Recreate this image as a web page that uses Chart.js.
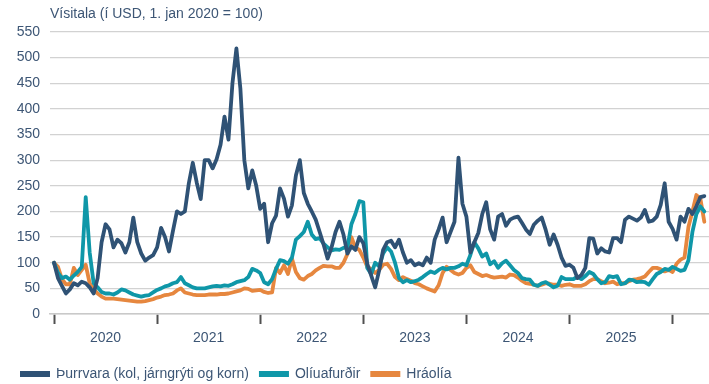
<!DOCTYPE html>
<html lang="is">
<head>
<meta charset="utf-8">
<title>Hrávöruverð</title>
<script src="https://cdn.jsdelivr.net/npm/chart.js@4.4.1/dist/chart.umd.min.js"></script>
<style>
  html, body { margin: 0; padding: 0; background: #ffffff; }
  #wrap { width: 709px; height: 384px; }
</style>
</head>
<body>
<div id="wrap"><canvas id="chart" width="709" height="384"></canvas></div>
<script>
// Biweekly observations starting 1 Jan 2020 (index 100 = 1. jan 2020, in USD)
const startYear = 2020;
const pointsPerYear = 26;

const seriesNames = ['Þurrvara (kol, járngrýti og korn)', 'Olíuafurðir', 'Hráolía'];
const yearLabels = ['2020', '2021', '2022', '2023', '2024', '2025'];
const yTicks = [0, 50, 100, 150, 200, 250, 300, 350, 400, 450, 500, 550];

const dryBulk = [
  100, 70, 55, 40, 48, 60, 56, 63, 60, 52, 40, 70, 140, 175, 165, 130, 145, 138, 120, 140, 188, 140, 118, 104, 110, 115,
  130, 168, 150, 122, 162, 200, 195, 200, 255, 295, 256, 224, 300, 300, 284, 302, 330, 385, 340, 450, 518, 440, 300, 245, 280, 250,
  205, 215, 140, 177, 192, 245, 225, 190, 212, 270, 300, 236, 215, 200, 184, 160, 135, 108, 130, 160, 180, 155, 118, 132,
  125, 150, 138, 98, 75, 52, 85, 125, 140, 143, 130, 145, 120, 100, 105, 95, 99, 95, 110, 100, 145, 165, 188, 140, 160, 180,
  305, 215, 190, 120, 140, 158, 195, 218, 165, 145, 190, 195, 172, 184, 188, 190, 178, 165, 156, 174, 182, 188, 164, 135,
  155, 135, 110, 94, 96, 90, 70, 76, 90, 148, 147, 118, 128, 122, 120, 148, 148, 140, 184, 190, 186, 182, 188, 203, 180, 182,
  190, 213, 255, 180, 166, 145, 190, 180, 205, 195, 210, 228, 230
];

const oilProducts = [
  100, 80, 70, 73, 67, 75, 82, 92, 228, 120, 60, 52, 43, 40, 40, 38, 42, 48, 46, 42, 38, 36, 34, 36, 37, 42,
  47, 50, 54, 56, 60, 62, 72, 60, 56, 52, 50, 50, 50, 52, 54, 55, 54, 56, 55, 58, 62, 64, 66, 72, 88, 85,
  80, 62, 58, 68, 88, 105, 103, 98, 110, 145, 152, 160, 180, 155, 146, 148, 137, 130, 124, 126, 125, 129, 130, 175,
  195, 220, 218, 90, 78, 100, 93, 118, 130, 122, 100, 70, 62, 66, 62, 64, 67, 72, 78, 83, 80, 86, 90, 87, 90, 90,
  93, 98, 95, 115, 140, 128, 112, 118, 97, 103, 90, 99, 104, 95, 86, 80, 70, 68, 67, 57, 55, 60, 62, 57,
  52, 55, 72, 68, 68, 68, 73, 68, 74, 82, 78, 68, 60, 62, 74, 72, 74, 58, 60, 67, 66, 62, 63, 62, 57, 68,
  78, 82, 88, 86, 92, 88, 84, 86, 105, 160, 195, 210, 200
];

const crudeOil = [
  100, 92, 68, 58, 58, 90, 76, 86, 96, 60, 48, 40, 34, 30, 30, 30, 29, 28, 27, 26, 25, 24, 24, 25, 27, 29,
  32, 34, 37, 38, 40, 46, 50, 42, 40, 38, 37, 37, 37, 38, 38, 38, 39, 39, 40, 42, 44, 46, 50, 49, 45, 46,
  47, 43, 41, 42, 90, 80, 95, 78, 108, 82, 70, 67, 74, 78, 85, 90, 94, 93, 93, 90, 90, 100, 117, 150,
  130, 125, 110, 92, 88, 80, 86, 96, 98, 88, 72, 66, 72, 68, 65, 60, 58, 54, 50, 47, 44, 56, 80, 92, 86, 80,
  77, 80, 90, 95, 82, 78, 74, 76, 73, 71, 72, 73, 71, 77, 76, 71, 65, 60, 59, 57, 55, 57, 60, 59,
  57, 57, 55, 57, 58, 55, 55, 55, 58, 64, 68, 68, 64, 60, 61, 63, 58, 60, 60, 64, 67, 68, 70, 73, 82, 90,
  90, 87, 83, 86, 82, 98, 106, 110, 170, 200, 232, 225, 180
];

// Time axis in fractional years, one entry per observation
const periods = dryBulk.map((_, i) => startYear + i / pointsPerYear);

const colors = ['#2f5275', '#0f97a8', '#e6873f'];
const textColor = '#3d5675';
const fontFamily = '"Liberation Sans", Arial, Helvetica, sans-serif';
const titleText = 'Vísitala (í USD, 1. jan 2020 = 100)';

// Year boundaries carry tick marks; mid-year positions carry the year labels
const xTickValues = [];
for (let k = 0; k <= yearLabels.length; k++) {
  xTickValues.push(startYear + k);
  if (k < yearLabels.length) xTickValues.push(startYear + k + 0.5);
}

const pxPerYear = 103.1;
const xMin = startYear - 4 / pxPerYear;
const xMax = startYear + 655 / pxPerYear;

const frame = {
  id: 'frame',
  afterDraw(chart) {
    const c = chart.ctx;
    c.save();
    c.font = '14px ' + fontFamily;
    c.textBaseline = 'middle';
    c.textAlign = 'left';
    c.fillStyle = textColor;
    c.fillText(titleText, chart.chartArea.left, 14);

    let x = 20;
    const y = 374;
    chart.data.datasets.forEach(ds => {
      c.fillStyle = ds.borderColor;
      c.fillRect(x, y - 3, 30, 6);
      x += 36;
      c.fillStyle = textColor;
      c.fillText(ds.label, x, y);
      x += c.measureText(ds.label).width + 10;
    });
    c.restore();
  }
};

const makeSet = (label, data, color) => ({
  label, data,
  borderColor: color,
  backgroundColor: color,
  borderWidth: 3.8,
  pointRadius: 0,
  pointHoverRadius: 0,
  tension: 0,
  fill: false,
  borderJoinStyle: 'round',
  borderCapStyle: 'round'
});

new Chart(document.getElementById('chart'), {
  type: 'line',
  data: {
    labels: periods,
    datasets: [
      makeSet(seriesNames[0], dryBulk, colors[0]),
      makeSet(seriesNames[1], oilProducts, colors[1]),
      makeSet(seriesNames[2], crudeOil, colors[2])
    ]
  },
  options: {
    responsive: false,
    animation: false,
    devicePixelRatio: 1,
    layout: { padding: { top: 32, left: 0, right: 0, bottom: 0 } },
    plugins: {
      legend: { display: false },
      title: { display: false },
      tooltip: { enabled: false }
    },
    scales: {
      x: {
        type: 'linear',
        min: xMin,
        max: xMax,
        afterBuildTicks: s => { s.ticks = xTickValues.map(v => ({ value: v })); },
        afterFit: s => { s.height = 70; s.paddingLeft = 0; s.paddingRight = 0; },
        ticks: {
          autoSkip: false,
          maxRotation: 0,
          minRotation: 0,
          padding: 6,
          color: textColor,
          font: { family: fontFamily, size: 14 },
          callback: v => Number.isInteger(v) ? '' : yearLabels[Math.floor(v) - startYear]
        },
        grid: {
          drawOnChartArea: false,
          drawTicks: true,
          tickLength: 10,
          tickColor: ctx => (ctx.tick && Number.isInteger(ctx.tick.value)) ? '#505050' : 'rgba(0,0,0,0)',
          tickWidth: 2,
          color: 'rgba(0,0,0,0)'
        },
        border: { display: true, color: '#c9c9c9', width: 1.5 }
      },
      y: {
        min: 0,
        max: 550,
        afterBuildTicks: s => { s.ticks = yTicks.map(v => ({ value: v })); },
        afterFit: s => { s.width = 50; s.paddingTop = 0; s.paddingBottom = 0; },
        ticks: {
          padding: 10,
          color: textColor,
          font: { family: fontFamily, size: 14 }
        },
        grid: { color: '#d2d2d2', lineWidth: 1.3, drawTicks: false },
        border: { display: false }
      }
    }
  },
  plugins: [frame]
});
</script>
</body>
</html>
